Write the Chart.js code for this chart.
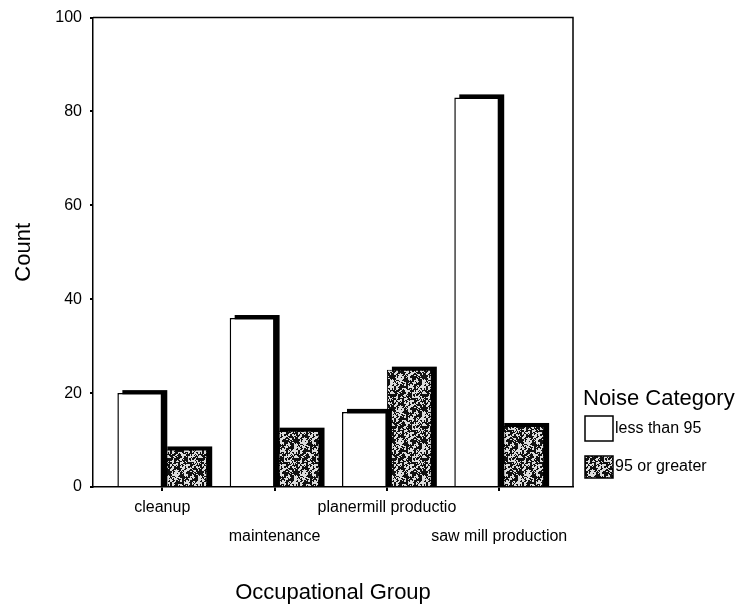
<!DOCTYPE html>
<html>
<head>
<meta charset="utf-8">
<script src="https://cdn.jsdelivr.net/npm/chart.js@4.4.0/dist/chart.umd.min.js"></script>
<style>
  body { margin: 0; background: #fff; }
  #wrap { width: 746px; height: 604px; }
</style>
</head>
<body>
<div id="wrap"><canvas id="chart" width="746" height="604"></canvas></div>
<script>
// data
const groups = ['cleanup', 'maintenance', 'planermill productio', 'saw mill production'];
const seriesNames = ['less than 95', '95 or greater'];
const lessThan95 = [20, 36, 16, 83];
const atLeast95 = [8, 12, 25, 13];
const countTicks = [0, 20, 40, 60, 80, 100];

const FONT = '"Liberation Sans", Arial, sans-serif';

function hash(x, y) {
    let h = Math.imul(x, 374761393) + Math.imul(y, 668265263);
    h = Math.imul(h ^ (h >>> 13), 1274126177);
    h ^= h >>> 16;
    return (h >>> 0) % 100;
}

// speckled grey fill like the scanned SPSS pattern (blotches + grain)
function speckle() {
    const c = document.createElement('canvas');
    c.width = 32; c.height = 32;
    const g = c.getContext('2d');
    g.fillStyle = '#dcdcdc';
    g.fillRect(0, 0, 32, 32);
    g.fillStyle = '#111';
    for (let y = 0; y < 32; y++) {
        for (let x = 0; x < 32; x++) {
            const blot = hash(x >> 1, y >> 1) < 55;
            const grain = hash(x + 101, y + 57) < 18;
            if (blot !== grain) g.fillRect(x, y, 1, 1);
        }
    }
    return g.createPattern(c, 'repeat');
}

const toPoints = arr => arr.map((v, i) => ({ x: i, y: v }));

// black drop shadow up/right of each bar
const barShadow = {
    id: 'barShadow',
    beforeDatasetDraw(chart, args) {
        const ctx = chart.ctx;
        ctx.save();
        ctx.fillStyle = '#000';
        args.meta.data.forEach(bar => {
            const p = bar.getProps(['x', 'y', 'base', 'width'], true);
            const top = p.y - 3;
            ctx.fillRect(p.x - p.width / 2 + 5, top, p.width, p.base - top);
        });
        ctx.restore();
    }
};

// top and right border of the plot box
const frame = {
    id: 'frame',
    afterDatasetsDraw(chart) {
        const a = chart.chartArea, ctx = chart.ctx;
        ctx.save();
        ctx.strokeStyle = '#000';
        ctx.lineWidth = 1.5;
        ctx.beginPath();
        ctx.moveTo(a.left, a.top);
        ctx.lineTo(a.right, a.top);
        ctx.lineTo(a.right, a.bottom);
        ctx.stroke();
        ctx.restore();
    }
};

// legend drawn by hand at the lower right
const sideLegend = {
    id: 'sideLegend',
    afterDraw(chart) {
        const ctx = chart.ctx;
        ctx.save();
        ctx.fillStyle = '#000';
        ctx.textBaseline = 'middle';
        ctx.textAlign = 'left';
        ctx.font = '22px ' + FONT;
        ctx.fillText('Noise Category', 583, 399);
        ctx.font = '16px ' + FONT;
        const rows = [{ y: 416, h: 25 }, { y: 456, h: 22 }];
        chart.data.datasets.forEach((ds, i) => {
            const r = rows[i];
            ctx.fillStyle = ds.backgroundColor;
            ctx.fillRect(585, r.y, 28, r.h);
            ctx.strokeStyle = '#000';
            ctx.lineWidth = 1.5;
            ctx.strokeRect(585, r.y, 28, r.h);
            ctx.fillStyle = '#000';
            ctx.fillText(ds.label, 615, r.y + r.h / 2);
        });
        ctx.restore();
    }
};

new Chart(document.getElementById('chart'), {
    type: 'bar',
    data: {
        datasets: [
            {
                label: seriesNames[0],
                data: toPoints(lessThan95),
                backgroundColor: '#fff',
                borderColor: '#000',
                borderWidth: 1.5
            },
            {
                label: seriesNames[1],
                data: toPoints(atLeast95),
                backgroundColor: speckle(),
                borderColor: '#000',
                borderWidth: 1
            }
        ]
    },
    options: {
        responsive: false,
        animation: false,
        layout: { padding: { top: 15, right: 173, left: 0, bottom: 0 } },
        categoryPercentage: 0.8,
        barPercentage: 1.0,
        plugins: { legend: { display: false }, tooltip: { enabled: false } },
        scales: {
            x: {
                type: 'linear',
                offset: false,
                min: -0.617,
                max: 3.657,
                afterBuildTicks: s => { s.ticks = groups.map((g, i) => ({ value: i })); },
                afterFit: s => { s.height = 117; },
                grid: { offset: false, drawOnChartArea: false, tickLength: 4, color: '#000', lineWidth: 2 },
                border: { color: '#000', width: 1.5 },
                ticks: {
                    autoSkip: false,
                    maxRotation: 0,
                    minRotation: 0,
                    padding: 2,
                    color: '#000',
                    font: { family: FONT, size: 16, lineHeight: 1.8 },
                    callback: v => (v % 2 ? ['', groups[v]] : groups[v])
                },
                title: {
                    display: true,
                    text: 'Occupational Group',
                    color: '#000',
                    font: { family: FONT, size: 22, lineHeight: 1 },
                    padding: { top: 0, bottom: 0 }
                }
            },
            y: {
                min: 0,
                max: 100,
                afterBuildTicks: s => { s.ticks = countTicks.map(v => ({ value: v })); },
                afterFit: s => { s.width = 93; },
                grid: { drawOnChartArea: false, tickLength: 3, color: '#000', lineWidth: 2 },
                border: { color: '#000', width: 1.5 },
                ticks: {
                    padding: 8,
                    color: '#000',
                    font: { family: FONT, size: 16 }
                },
                title: {
                    display: true,
                    text: 'Count',
                    color: '#000',
                    font: { family: FONT, size: 22, lineHeight: 1 },
                    padding: { top: 13, bottom: 0 }
                }
            }
        }
    },
    plugins: [barShadow, frame, sideLegend]
});
</script>
</body>
</html>
